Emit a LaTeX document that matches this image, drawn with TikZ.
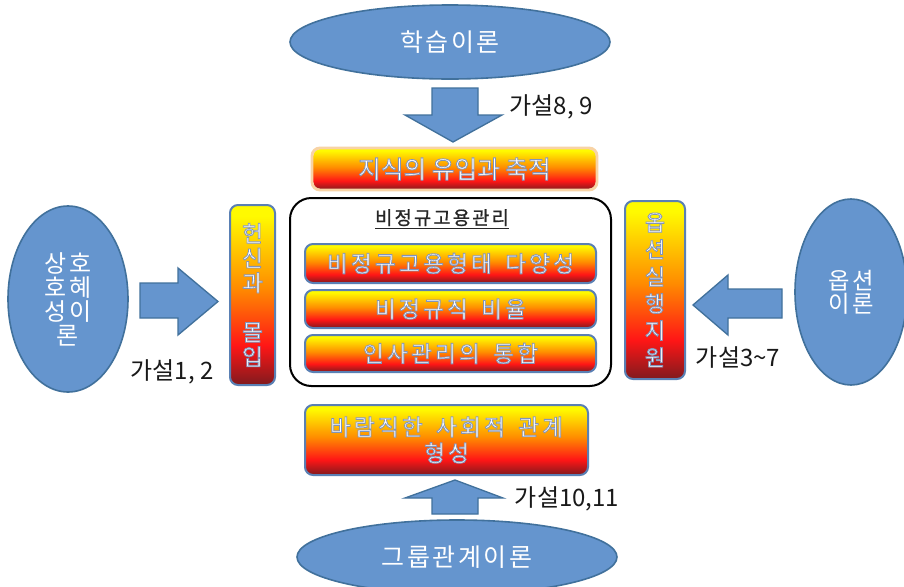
\documentclass[tikz,border=0pt]{standalone}
\usepackage{fontspec}
\usetikzlibrary{shapes.geometric}
\newfontfamily\kbox[LetterSpace=14, WordSpace=1.6]{Noto Sans CJK KR}
\newfontfamily\kknow[WordSpace=1.5]{Noto Sans CJK KR}
\newfontfamily\kell[LetterSpace=10]{Noto Sans CJK KR}
\newfontfamily\kvert{Noto Sans CJK KR}
\newfontfamily\khyp{Noto Sans CJK KR}
\newfontfamily\klbl[LetterSpace=12, FakeBold=1]{Noto Sans CJK KR}
\newdimen\px \px=0.75pt
\definecolor{thfill}{HTML}{6595CE}
\definecolor{thline}{HTML}{41719C}
\definecolor{fyellow}{RGB}{255,250,0}
\definecolor{forange}{RGB}{255,140,0}
\definecolor{fred}{RGB}{255,22,22}
\definecolor{fdark}{RGB}{128,26,30}
\definecolor{bline}{HTML}{5A80B4}
\definecolor{peach}{HTML}{F8D3A5}
% white text with a thin blue-grey outline (fill + stroke render mode)
\newcommand\wt[1]{\special{pdf:code q 2 Tr 0.6 w 0.50 0.58 0.74 RG}#1\special{pdf:code Q}}
\pgfdeclareverticalshading{fire}{100bp}{color(0bp)=(fdark); color(25bp)=(fdark); color(36bp)=(fred); color(52bp)=(forange); color(72bp)=(fyellow); color(100bp)=(fyellow)}
\tikzset{
  theory/.style={ellipse, fill=thfill, draw=thline, line width=1.2pt, text=white, inner sep=0pt, align=center, font=\kell\fontsize{18}{18}\selectfont},
  firebox/.style={rectangle, rounded corners=6pt, shading=fire, draw=bline, line width=1.5pt, text=white, inner sep=0pt, align=center, font=\kbox\fontsize{17}{19.5}\selectfont},
  blockarrow/.style={fill=thfill, draw=thline, line width=1pt, line join=miter},
  hyp/.style={text=black!90, inner sep=0pt, font=\khyp\fontsize{18}{20}\selectfont}
}
\begin{document}
\begin{tikzpicture}[x=0.75pt,y=-0.75pt]
\useasboundingbox (0,0) rectangle (904,586);
\clip (0,0) rectangle (904,586);
\fill[white] (0,0) rectangle (904,586);
% theories
\node[theory, minimum width=320\px, minimum height=74\px, font=\kell\fontsize{18.75}{18}\selectfont] (learn) at (450,42) {학습이론};
\node[theory, minimum width=120\px, minimum height=186\px] (recip) at (68,299) {상호\\호혜\\성이\\론};
\node[theory, minimum width=112\px, minimum height=186\px, font=\kell\fontsize{17.5}{17.5}\selectfont] (option) at (851,292) {옵션\\이론};
\node[theory, minimum width=320\px, minimum height=74\px, font=\kell\fontsize{18.75}{18}\selectfont] (group) at (457,557) {그룹관계이론};
% boxes
\node[firebox, draw=peach, line width=2.2pt, minimum width=285\px, minimum height=42\px, font=\kknow\fontsize{18.5}{18}\selectfont] (know) at (454.5,169) {\wt{지식의 유입과 축적}};
\node[draw=black, line width=1.5pt, rounded corners=16pt, minimum width=321\px, minimum height=188\px] (mgmt) at (450.5,292) {};
\node[inner sep=0pt, text=black!85, font=\klbl\fontsize{14}{16}\selectfont] (mgmtlbl) at (442,219) {\underline{비정규고용관리}};
\node[firebox, minimum width=291\px, minimum height=39\px] (form) at (450.5,263.5) {\wt{비정규고용형태 다양성}};
\node[firebox, minimum width=291\px, minimum height=38\px] (ratio) at (450.5,309) {\wt{비정규직 비율}};
\node[firebox, minimum width=291\px, minimum height=37\px] (integ) at (450.5,353.5) {\wt{인사관리의 통합}};
\node[firebox, minimum width=45\px, minimum height=180\px, font=\kvert\fontsize{17}{18.5}\selectfont] (commit) at (252.5,295) {\wt{헌}\\\wt{신}\\\wt{과}\\[18.5pt]\wt{몰}\\\wt{입}};
\node[firebox, minimum width=60\px, minimum height=178\px, font=\kvert\fontsize{16.5}{20.25}\selectfont] (exec) at (655,290) {\wt{옵}\\\wt{션}\\\wt{실}\\\wt{행}\\\wt{지}\\\wt{원}};
\node[firebox, minimum width=283\px, minimum height=70\px] (social) at (446.5,440) {\wt{바람직한 사회적 관계}\\\wt{형성}};
% block arrows
\draw[blockarrow] (432,88) -- (478,88) -- (478,115) -- (502,115) -- (453,142) -- (405,115) -- (432,115) -- cycle;
\draw[blockarrow] (432,514) -- (478,514) -- (478,498) -- (503,498) -- (455,480) -- (405,498) -- (432,498) -- cycle;
\draw[blockarrow] (140,283) -- (178,283) -- (178,268) -- (218,301.5) -- (178,335) -- (178,318) -- (140,318) -- cycle;
\draw[blockarrow] (782,289) -- (728,289) -- (728,275) -- (693,305) -- (728,335) -- (728,318) -- (782,318) -- cycle;
% hypotheses
\node[hyp] (h89) at (551,107) {가설8, 9};
\node[hyp] (h12) at (172,372) {가설1, 2};
\node[hyp] (h37) at (738,357) {가설3\textasciitilde7};
\node[hyp] (h1011) at (567,499) {가설10,11};
\end{tikzpicture}
\end{document}
